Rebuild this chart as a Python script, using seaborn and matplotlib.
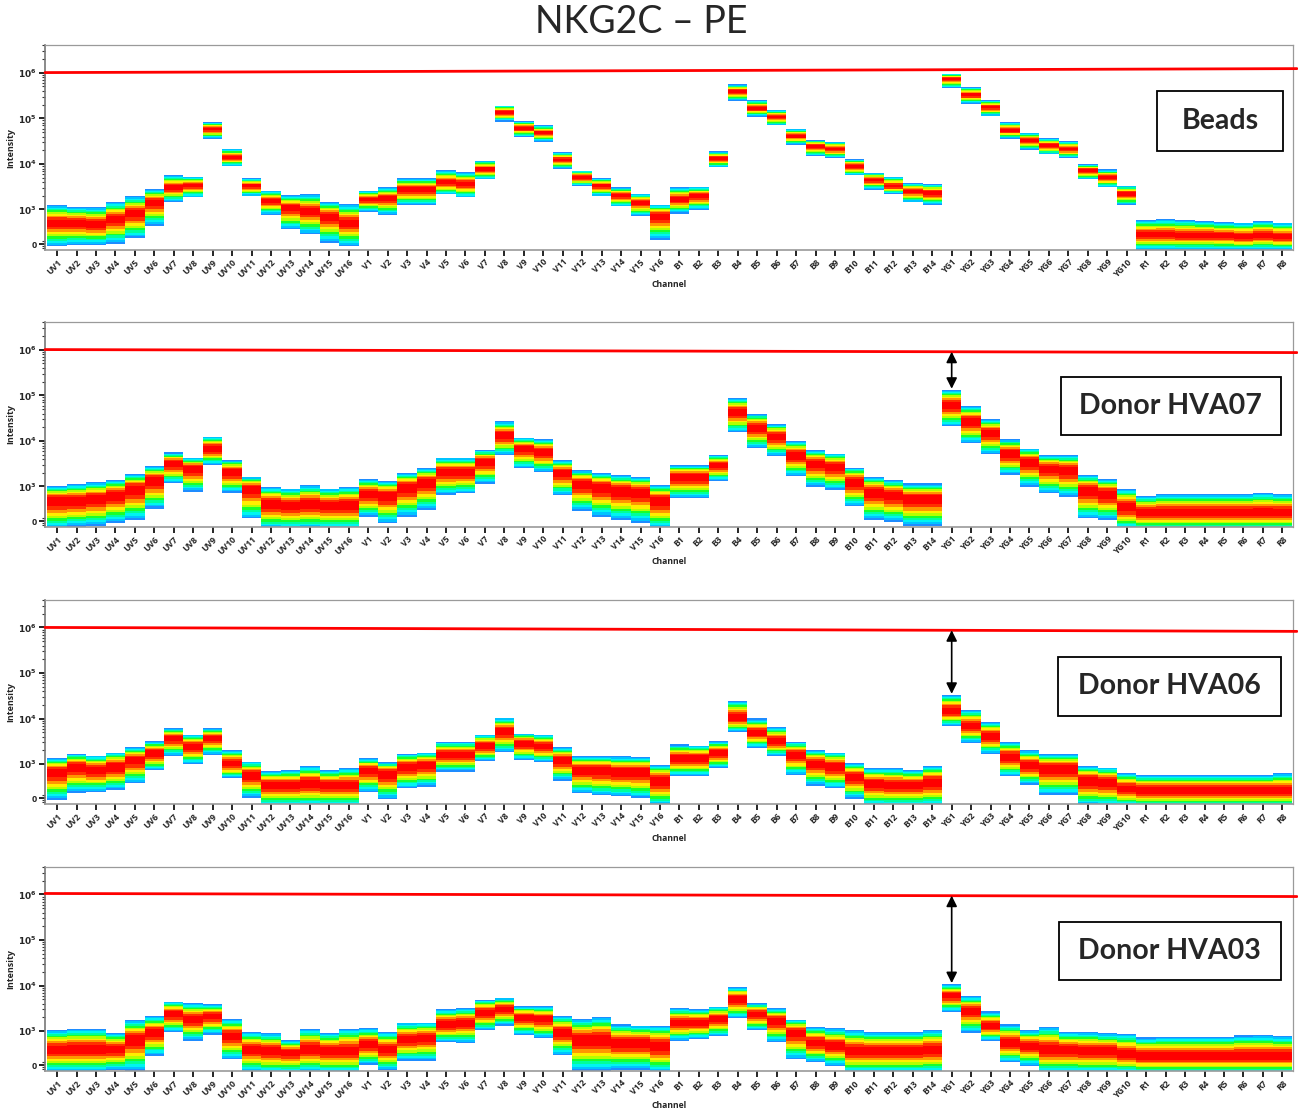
import numpy as np
import pandas as pd
import matplotlib
matplotlib.use("Agg")
import matplotlib.pyplot as plt
import seaborn as sns
from matplotlib.colors import ListedColormap
from matplotlib.patches import Rectangle
from matplotlib.ticker import FixedLocator, FixedFormatter, NullFormatter

# ---------------------------------------------------------------- data
CHANNELS = ["UV1", "UV2", "UV3", "UV4", "UV5", "UV6", "UV7", "UV8", "UV9", "UV10",
            "UV11", "UV12", "UV13", "UV14", "UV15", "UV16",
            "V1", "V2", "V3", "V4", "V5", "V6", "V7", "V8", "V9", "V10",
            "V11", "V12", "V13", "V14", "V15", "V16",
            "B1", "B2", "B3", "B4", "B5", "B6", "B7", "B8", "B9", "B10",
            "B11", "B12", "B13", "B14",
            "YG1", "YG2", "YG3", "YG4", "YG5", "YG6", "YG7", "YG8", "YG9", "YG10",
            "R1", "R2", "R3", "R4", "R5", "R6", "R7", "R8"]

PANEL_LABELS = ["Beads", "Donor HVA07", "Donor HVA06", "Donor HVA03"]
Y_TICKS = [0, 1e3, 1e4, 1e5, 1e6]
Y_TICK_LABELS = ["0", r"$\mathbf{10^3}$", r"$\mathbf{10^4}$", r"$\mathbf{10^5}$", r"$\mathbf{10^6}$"]

# upper edge, peak (red) and lower edge of each channel's distribution
beads_top = [1280, 1150, 1150, 1490, 1990, 2880, 5830, 5460, 83000, 21600, 4930, 2650, 2130, 2240, 1490, 1320,
             2650, 3130, 5010, 5010, 7500, 6670, 12000, 192000, 88800, 70200, 18300, 7380, 5010, 3130, 2240, 1280,
             3130, 3240, 18900, 546000, 248000, 155000, 59300, 34000, 31300, 13100, 6450, 5460, 3900, 3700,
             950000, 485000, 248000, 83000, 48500, 37100, 31800, 10200, 7640, 3400,
             550, 584, 560, 537, 503, 473, 537, 473]
beads_peak = [473, 473, 425, 584, 816, 1443, 3130, 3400, 59300, 14200, 3400, 1570, 1110, 928, 703, 473,
              1711, 1800, 2790, 2790, 4030, 3700, 7890, 137000, 61300, 48500, 12600, 5190, 3400, 2060, 1443, 703,
              1711, 1990, 13500, 390000, 168000, 107000, 41000, 24800, 21600, 9030, 4610, 3300, 2560, 2350,
              738000, 330000, 177000, 54600, 33000, 25600, 21600, 7260, 5190, 2240,
              188, 188, 168, 168, 155, 142, 168, 142]
beads_bottom = [-42, -18, -18, 12, 104, 381, 1443, 1860, 35800, 9030, 1990, 745, 282, 188, 18, -42,
                878, 729, 1210, 1210, 2130, 1860, 4610, 85900, 39600, 31300, 7890, 3300, 1990, 1150, 677, 79,
                803, 978, 8450, 243000, 110000, 70200, 26500, 15000, 13500, 5640, 2790, 2240, 1443, 1255,
                461000, 209000, 112000, 35800, 20600, 16300, 13500, 4610, 3080, 1255,
                -110, -110, -110, -110, -110, -110, -110, -110]

hva07_top = [1030, 1130, 1232, 1443, 1920, 2880, 5640, 4390, 12600, 3900, 1654, 978, 894, 1067, 894, 978,
             1490, 1343, 2060, 2560, 4390, 4390, 6450, 26900, 12000, 11000, 3900, 2280, 2060, 1820, 1654, 1067,
             3030, 3030, 5010, 87300, 39600, 23900, 10200, 6450, 5460, 2650, 1654, 1390, 1170, 1170,
             133000, 59300, 30800, 11000, 7020, 5010, 5010, 1820, 1520, 894,
             584, 652, 652, 652, 652, 652, 703, 652]
hva07_peak = [455, 455, 503, 616, 894, 1390, 3300, 2560, 7020, 2160, 894, 363, 321, 363, 321, 321,
              677, 616, 978, 1278, 2160, 2160, 3580, 13700, 7020, 5930, 1990, 1170, 978, 816, 745, 455,
              1654, 1654, 3030, 44600, 20200, 12600, 5010, 3300, 2790, 1278, 745, 616, 503, 503,
              62400, 26900, 15000, 5460, 3580, 2560, 2350, 816, 677, 282,
              174, 174, 174, 174, 174, 174, 174, 174]
hva07_bottom = [-150, -100, -90, -30, 18, 244, 1170, 745, 3030, 703, 48, -150, -150, -150, -150, -150,
                79, -42, 79, 209, 616, 677, 1130, 5010, 2560, 2060, 616, 188, 79, 18, -30, -150,
                503, 503, 1343, 15500, 7020, 4770, 1711, 978, 816, 282, 18, -12, -90, -90,
                20900, 9030, 5190, 1820, 978, 677, 560, 48, 18, -150,
                -170, -170, -170, -170, -170, -170, -170, -170]

hva06_top = [1338, 1683, 1540, 1820, 2360, 3210, 6140, 4500, 6140, 2030, 1120, 665, 706, 885, 706, 777,
             1338, 1080, 1683, 1820, 3100, 3100, 4500, 10600, 4750, 4500, 2360, 1510, 1510, 1470, 1440, 935,
             2710, 2570, 3210, 24900, 10100, 6680, 3100, 1990, 1820, 1020, 777, 777, 706, 885,
             33300, 15700, 8630, 3050, 1990, 1683, 1683, 900, 810, 585,
             525, 525, 525, 525, 525, 525, 525, 585]
hva06_peak = [644, 855, 706, 855, 1230, 1740, 3810, 2490, 3810, 1020, 525, 256, 256, 294, 256, 256,
              706, 585, 855, 935, 1600, 1600, 2570, 5360, 2950, 2490, 1230, 706, 706, 644, 644, 380,
              1338, 1338, 1740, 10600, 4920, 3210, 1600, 1020, 855, 473, 294, 256, 256, 335,
              14900, 6920, 4150, 1470, 935, 777, 777, 380, 335, 184,
              151, 151, 151, 151, 151, 151, 151, 151]
hva06_bottom = [-37, 99, 118, 151, 294, 679, 1510, 970, 1600, 424, 12, -150, -150, -150, -150, -150,
                118, -18, 184, 220, 644, 644, 1120, 1820, 1180, 1060, 360, 87, 43, 25, -6, -150,
                490, 490, 777, 5090, 2290, 1510, 525, 240, 184, -6, -150, -150, -150, -150,
                6920, 2950, 1683, 473, 256, 55, 55, -150, -150, -150,
                -170, -170, -170, -170, -170, -170, -170, -170]

hva03_top = [1050, 1130, 1130, 905, 1740, 2100, 4490, 4120, 3850, 1860, 935, 870, 590, 1130, 905, 1130,
             1130, 935, 1540, 1540, 3090, 3250, 4970, 5410, 3540, 3540, 2200, 1860, 2100, 1410, 1340, 1340,
             3250, 3090, 3480, 9290, 4120, 3250, 1800, 1250, 1130, 1030, 935, 935, 935, 1030,
             10800, 5890, 2700, 1410, 1030, 1235, 935, 935, 870, 860,
             685, 725, 725, 725, 725, 780, 790, 745]
hva03_peak = [324, 324, 324, 324, 623, 905, 2400, 1860, 2200, 755, 324, 285, 245, 324, 285, 285,
              460, 324, 623, 685, 1410, 1540, 2610, 3090, 2020, 1860, 905, 623, 623, 508, 508, 410,
              1540, 1540, 1860, 5140, 2400, 1690, 905, 508, 410, 285, 285, 285, 285, 324,
              6080, 2840, 1300, 508, 410, 324, 324, 285, 285, 210,
              176, 176, 176, 176, 176, 176, 176, 176]
hva03_bottom = [-130, -130, -130, -90, -110, 176, 905, 566, 798, 110, -130, -150, -150, -130, -150, -150,
                0, -90, 80, 80, 508, 478, 990, 1300, 755, 650, 190, -110, -110, -90, -90, -150,
                566, 623, 725, 1860, 990, 508, 110, 61, -12, -150, -150, -150, -150, -150,
                2610, 870, 566, 49, -12, -150, -150, -150, -150, -150,
                -170, -170, -170, -170, -170, -170, -170, -170]

# red reference line (left end, right end) per panel
ref_line = [(1.0e6, 1.22e6), (1.0e6, 0.86e6), (1.0e6, 0.82e6), (1.05e6, 0.9e6)]

# ---------------------------------------------------------------- style
sns.set_theme(style="ticks")
plt.rcParams["font.family"] = ["Open Sans", "DejaVu Sans"]
plt.rcParams["mathtext.fontset"] = "dejavusans"

A = 358.0  # asinh linear width


def to_s(v):
    return np.arcsinh(np.asarray(v, dtype=float) / A)


s_edges = np.linspace(to_s(-180), to_s(1.6e6), 351)
y_edges = A * np.sinh(s_edges)
s_cent = 0.5 * (s_edges[:-1] + s_edges[1:])
y_cent = A * np.sinh(s_cent)
x_edges = np.arange(len(CHANNELS) + 1) - 0.5

spec_cmap = ListedColormap(["#1e8cff", "#00c3ff", "#00f5f0", "#00ff9a", "#19ff2a",
                            "#b4ff00", "#ffee00", "#ff9600", "#ff3000", "#ff0000"])


def column_frame(top, peak, bottom, k):
    frames = []
    for i in range(len(CHANNELS)):
        st, sp, sb = to_s(top[i]), to_s(peak[i]), to_s(bottom[i])
        up = (s_cent - sp) / max(st - sp, 1e-6)
        dn = (sp - s_cent) / max(sp - sb, 1e-6)
        t = np.where(s_cent >= sp, up, dn)
        d = np.clip(1.0 - np.abs(t) ** k, 0, None)
        m = d > 0
        frames.append(pd.DataFrame({"channel": i, "intensity": y_cent[m], "density": d[m]}))
    return pd.concat(frames, ignore_index=True)


panels = [
    (beads_top, beads_peak, beads_bottom, 1.3),
    (hva07_top, hva07_peak, hva07_bottom, 1.45),
    (hva06_top, hva06_peak, hva06_bottom, 1.45),
    (hva03_top, hva03_peak, hva03_bottom, 1.4),
]

fig = plt.figure(figsize=(12.98, 11.08), dpi=100)
ax_rects = [
    (45 / 1298, 1 - 250 / 1108, 1248 / 1298, 205 / 1108),
    (45 / 1298, 1 - 527 / 1108, 1248 / 1298, 205 / 1108),
    (45 / 1298, 1 - 804 / 1108, 1248 / 1298, 204 / 1108),
    (45 / 1298, 1 - 1071 / 1108, 1248 / 1298, 204 / 1108),
]
box_rects = [
    (0.891, 0.483, 0.101, 0.293),
    (0.814, 0.449, 0.176, 0.283),
    (0.812, 0.431, 0.178, 0.290),
    (0.8125, 0.444, 0.1775, 0.288),
]

minor = [-60, -30, 30, 60] + [m * 10 ** e for e in range(3, 7) for m in range(2, 10)]
yg1 = CHANNELS.index("YG1")

for idx, (top, peak, bottom, k) in enumerate(panels):
    ax = fig.add_axes(ax_rects[idx])
    df = column_frame(top, peak, bottom, k)
    sns.histplot(data=df, x="channel", y="intensity", weights="density",
                 bins=[x_edges, y_edges], cmap=spec_cmap, vmin=0, vmax=1,
                 thresh=0.015, cbar=False, ax=ax)
    ax.set_yscale("asinh", linear_width=A)
    ax.set_ylim(-105, 4.0e6)
    ax.set_xlim(-0.62, 63.55)

    ax.yaxis.set_major_locator(FixedLocator(Y_TICKS))
    ax.yaxis.set_major_formatter(FixedFormatter(Y_TICK_LABELS))
    ax.yaxis.set_minor_locator(FixedLocator(minor))
    ax.yaxis.set_minor_formatter(NullFormatter())
    ax.set_xticks(range(len(CHANNELS)))
    ax.set_xticklabels(CHANNELS, rotation=45, ha="right", rotation_mode="anchor",
                       fontsize=6.2, fontweight="bold")
    for lab in ax.get_yticklabels():
        lab.set_fontsize(6.5)
        lab.set_fontweight("bold")
    ax.tick_params(axis="x", which="major", length=4, width=1.2, color="black", pad=1.5)
    ax.tick_params(axis="y", which="major", length=4, width=1.2, color="black", pad=2)
    ax.tick_params(axis="y", which="minor", length=2, width=0.8, color="#333333")
    ax.set_xlabel("Channel", fontsize=6.2, fontweight="bold", labelpad=0)
    ax.set_ylabel("Intensity", fontsize=6.5, fontweight="bold", labelpad=2)

    for side in ["top", "right"]:
        ax.spines[side].set_color("#9a9a9a")
        ax.spines[side].set_linewidth(0.9)
    ax.spines["left"].set_color("#777777")
    ax.spines["left"].set_linewidth(1.2)
    ax.spines["bottom"].set_color("#9a9a9a")
    ax.spines["bottom"].set_linewidth(1.2)

    xl = ax.get_xlim()
    ax.plot([xl[0], xl[1] + 0.2], list(ref_line[idx]), color="#ff0000", lw=2.0,
            clip_on=False, zorder=5)

    if idx > 0:
        frac = (yg1 - xl[0]) / (xl[1] - xl[0])
        y_line = ref_line[idx][0] + (ref_line[idx][1] - ref_line[idx][0]) * frac
        ax.annotate("", xy=(yg1, top[yg1] * 1.05), xytext=(yg1, y_line),
                    arrowprops=dict(arrowstyle="<|-|>", color="black", lw=1.2,
                                    mutation_scale=16, shrinkA=0, shrinkB=0),
                    zorder=6)

    bx, by, bw, bh = box_rects[idx]
    ax.add_patch(Rectangle((bx, by), bw, bh, transform=ax.transAxes, fill=True,
                           facecolor="white", edgecolor="black", lw=1.3, zorder=7))
    ax.text(bx + bw / 2, by + bh / 2, PANEL_LABELS[idx], transform=ax.transAxes,
            ha="center", va="center", fontsize=20.5, fontweight="bold",
            family=["Lato", "DejaVu Sans"], zorder=8)

fig.text(0.494, 0.980, "NKG2C \u2013 PE", ha="center", va="center", fontsize=27,
         family=["Lato", "DejaVu Sans"])

fig.savefig("out.png", dpi=100)
